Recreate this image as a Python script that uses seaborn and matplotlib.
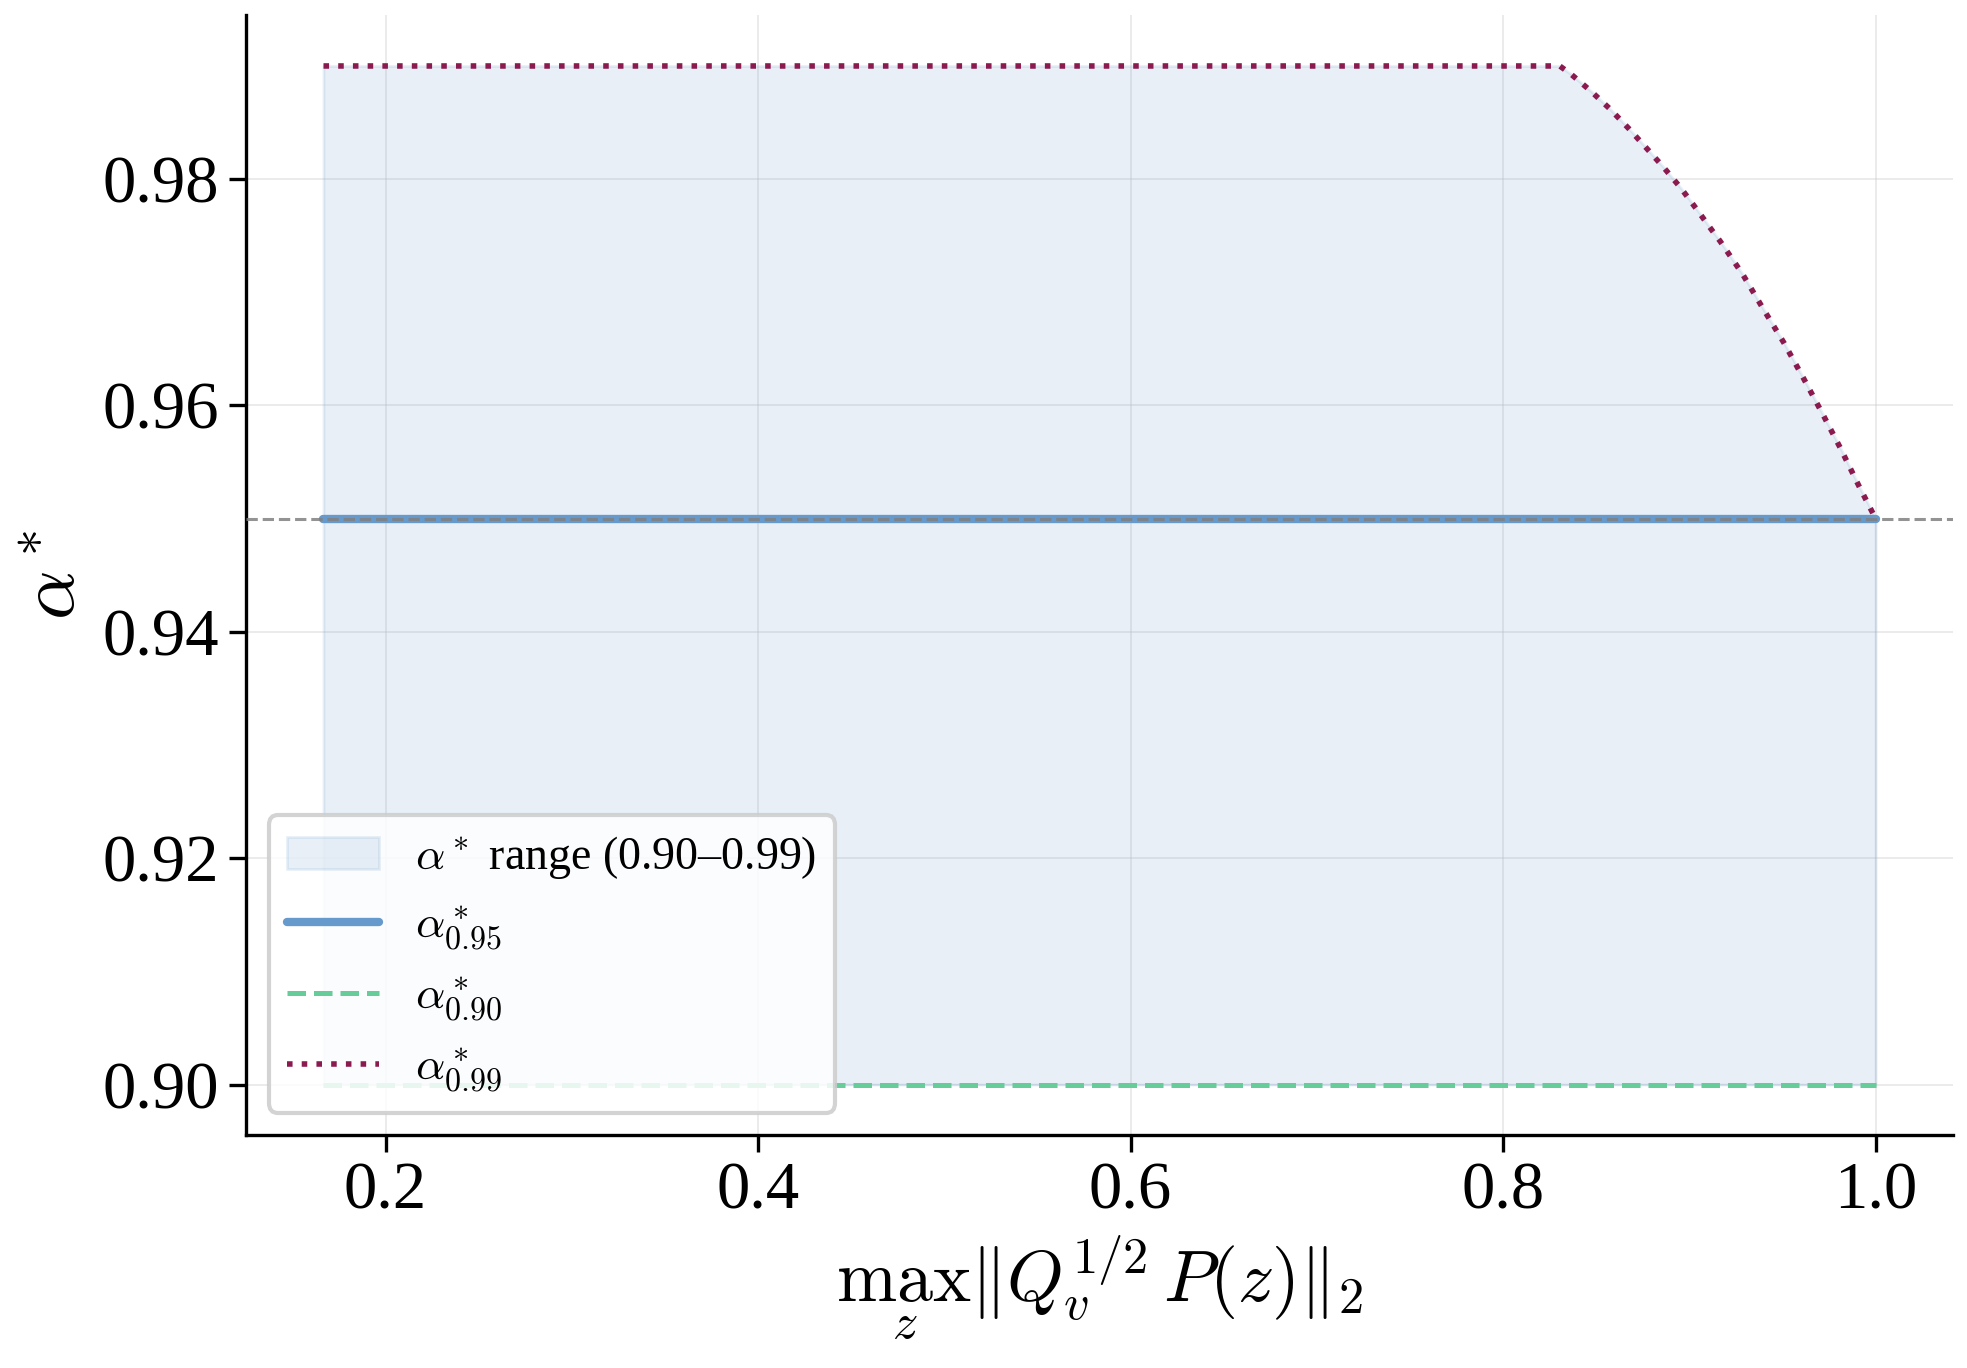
import numpy as np
import pandas as pd
import matplotlib
matplotlib.use("Agg")
import matplotlib.pyplot as plt
import seaborn as sns

# values
x_vals = [0.1667, 0.25, 0.3333, 0.4167, 0.5, 0.5833, 0.6667, 0.75, 0.8304,
          0.8363, 0.847, 0.8574, 0.8673, 0.8772, 0.8864, 0.8955, 0.9041,
          0.9125, 0.9166, 0.9286, 0.9398, 0.9509, 0.9613, 0.9714, 0.9812,
          0.9907, 1.0]
alpha_99 = [0.99, 0.99, 0.99, 0.99, 0.99, 0.99, 0.99, 0.99, 0.99,
            0.9893, 0.9878, 0.9862, 0.9845, 0.9827, 0.9810, 0.9792, 0.9773,
            0.9754, 0.9745, 0.9716, 0.9685, 0.9655, 0.9624, 0.9593, 0.9562,
            0.9530, 0.95]
alpha_95 = [0.95] * len(x_vals)
alpha_90 = [0.90] * len(x_vals)

df = pd.DataFrame({"x": x_vals, "a99": alpha_99, "a95": alpha_95, "a90": alpha_90})

sns.set_style("ticks")
plt.rcParams["font.family"] = ["Liberation Serif", "DejaVu Serif"]
plt.rcParams["mathtext.fontset"] = "cm"
plt.rcParams["text.color"] = "black"
plt.rcParams["axes.labelcolor"] = "black"
plt.rcParams["xtick.color"] = "black"
plt.rcParams["ytick.color"] = "black"
plt.rcParams["axes.edgecolor"] = "black"

blue = "#6699cc"
green = "#66cc99"
maroon = "#8b1a4e"

fig, ax = plt.subplots(figsize=(9.835, 6.84), dpi=200)
fig.subplots_adjust(left=0.125, right=0.993, top=0.989, bottom=0.170)

ax.fill_between(df["x"], df["a90"], df["a99"], color=blue, alpha=0.15,
                label=r"$\alpha^*$ range (0.90–0.99)")
sns.lineplot(data=df, x="x", y="a95", ax=ax, color=blue, lw=3.0,
             label=r"$\alpha^*_{0.95}$")
sns.lineplot(data=df, x="x", y="a90", ax=ax, color=green, lw=1.8,
             linestyle="--", label=r"$\alpha^*_{0.90}$")
sns.lineplot(data=df, x="x", y="a99", ax=ax, color=maroon, lw=2.0,
             linestyle=":", label=r"$\alpha^*_{0.99}$")
ax.axhline(0.95, color="gray", linestyle="--", lw=1.1, alpha=0.85, zorder=5)

ax.grid(True, color="#cccccc", alpha=0.4, lw=0.7)
ax.set_yticks([0.90, 0.92, 0.94, 0.96, 0.98])
ax.set_xticks([0.2, 0.4, 0.6, 0.8, 1.0])
ax.tick_params(labelsize=24, width=1.2, length=6)
for s in ["left", "bottom"]:
    ax.spines[s].set_linewidth(1.2)
sns.despine(ax=ax)

ax.set_xlabel(r"$\max_z \|Q_v^{1/2} P(z)\|_2$", fontsize=26)
ax.set_ylabel(r"$\alpha^*$", fontsize=28)

leg = ax.legend(loc="lower left", fontsize=16.5, frameon=True, fancybox=True,
                framealpha=0.85, edgecolor="#cccccc")
leg.get_frame().set_linewidth(1.5)

fig.savefig("out.png", dpi=200)
